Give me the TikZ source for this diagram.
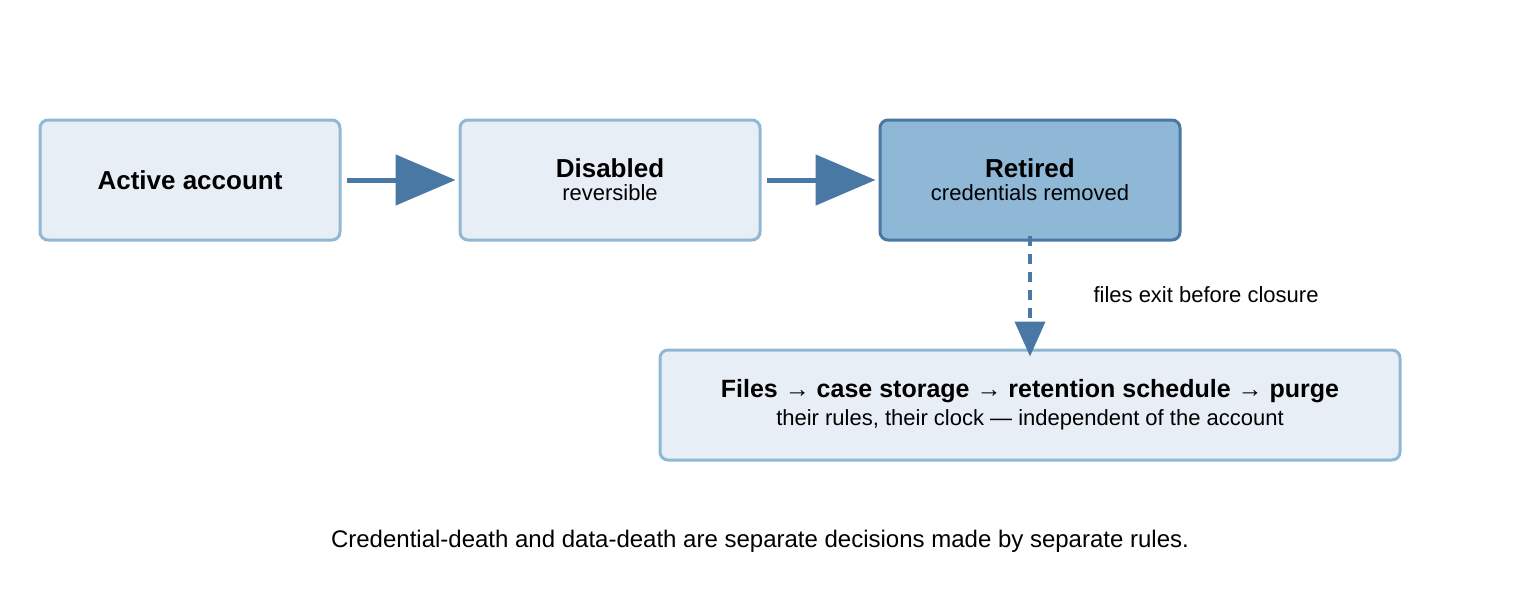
\documentclass[tikz,border=0pt]{standalone}
\usepackage{fontspec}
\setmainfont{Liberation Sans}
\usetikzlibrary{arrows.meta}
\definecolor{lightfill}{HTML}{E8EEF5}
\definecolor{lightedge}{HTML}{8FB8D6}
\definecolor{darkfill}{HTML}{8FB8D6}
\definecolor{darkedge}{HTML}{4A78A5}
\tikzset{
  box/.style={draw=lightedge, fill=lightfill, line width=3pt, rounded corners=8pt, minimum width=300pt, minimum height=120pt, align=center, inner sep=0pt},
  darkbox/.style={box, draw=darkedge, fill=darkfill},
  flow/.style={draw=darkedge, line width=5pt, -{Triangle[length=60pt,width=50pt]}},
  title/.style={font=\fontsize{26}{30}\selectfont\bfseries},
  sub/.style={font=\fontsize{22}{26}\selectfont}
}
\begin{document}
\begin{tikzpicture}[x=1pt,y=-1pt]
\useasboundingbox (0,0) rectangle (1520,600);
\node[box] (a) at (190,180) {\fontsize{26}{30}\selectfont\bfseries Active account};
\node[box] (b) at (610,180) {{\fontsize{26}{30}\selectfont\bfseries Disabled}\\[6pt]{\fontsize{22}{26}\selectfont reversible}};
\node[darkbox] (c) at (1030,180) {{\fontsize{26}{30}\selectfont\bfseries Retired}\\[6pt]{\fontsize{22}{26}\selectfont credentials removed}};
\node[box, minimum width=740pt, minimum height=110pt] (d) at (1030,405) {{\fontsize{25}{30}\selectfont\bfseries Files → case storage → retention schedule → purge}\\[6pt]{\fontsize{22}{26}\selectfont their rules, their clock — independent of the account}};
\draw[flow] ([xshift=5pt]a.east) -- ([xshift=-3pt]b.west);
\draw[flow] ([xshift=5pt]b.east) -- ([xshift=-3pt]c.west);
\draw[flow, line width=4pt, dash pattern=on 10pt off 8pt, -{Triangle[length=35pt,width=30pt]}] ([yshift=6pt]c.south) -- ([yshift=-8pt]d.north);
\node[anchor=west, font=\fontsize{22}{26}\selectfont] (lbl) at (1090,295) {files exit before closure};
\node[font=\fontsize{24}{28}\selectfont] (cap) at (760,541) {Credential-death and data-death are separate decisions made by separate rules.};
\end{tikzpicture}
\end{document}
